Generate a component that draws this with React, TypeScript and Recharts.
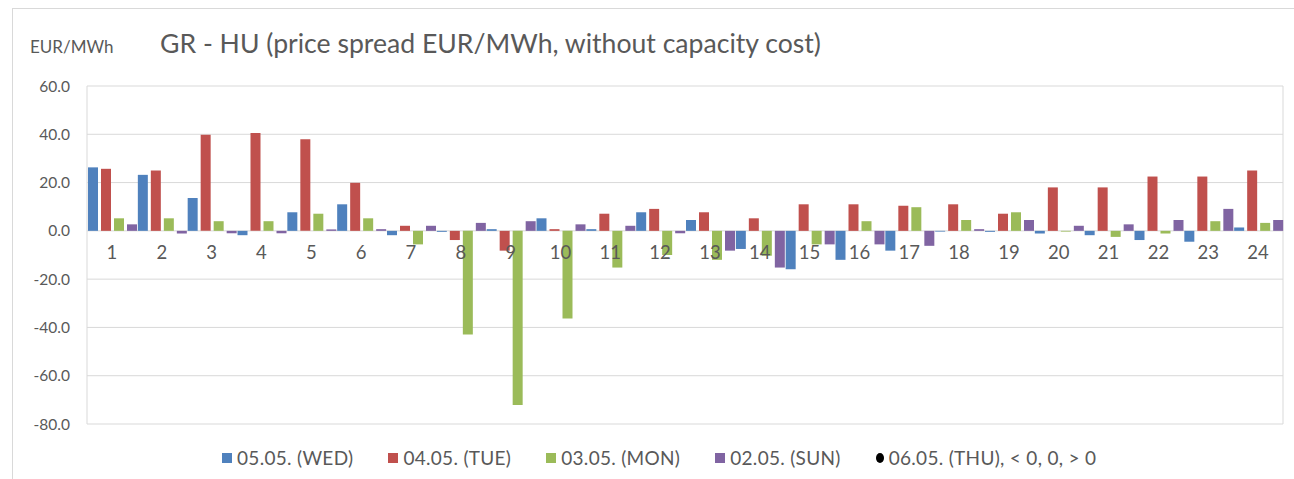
import React from "react";
import {
  ComposedChart,
  Bar,
  Line,
  XAxis,
  YAxis,
  CartesianGrid,
  LabelList,
} from "recharts";

// hours of the day
const hours = [1, 2, 3, 4, 5, 6, 7, 8, 9, 10, 11, 12, 13, 14, 15, 16, 17, 18, 19, 20, 21, 22, 23, 24];

// price spread per day (EUR/MWh)
const wed0505 = [26.3, 23.2, 13.6, -1.8, 7.7, 11.0, -1.8, -0.4, 0.7, 5.2, 0.7, 7.7, 4.5, -7.5, -15.9, -12.0, -8.2, -0.3, -0.4, -1.1, -1.8, -3.8, -4.5, 1.4];
const tue0405 = [25.7, 25.0, 39.8, 40.5, 37.9, 19.9, 2.1, -3.8, -8.2, 0.7, 7.1, 9.1, 7.7, 5.2, 11.0, 11.0, 10.4, 11.0, 7.1, 18.0, 18.0, 22.5, 22.5, 25.0];
const mon0305 = [5.2, 5.2, 4.0, 4.0, 7.1, 5.2, -5.6, -42.9, -72.1, -36.3, -15.2, -10.0, -12.0, -10.3, -5.6, 4.0, 9.8, 4.5, 7.7, -0.3, -2.5, -1.1, 4.0, 3.3];
const sun0205 = [2.7, -1.1, -1.0, -1.0, 0.6, 0.7, 2.1, 3.3, 4.0, 2.7, 2.1, -1.0, -8.2, -15.2, -5.6, -5.6, -6.2, 0.7, 4.5, 2.1, 2.7, 4.5, 9.1, 4.5];

const yTicks = [-80, -60, -40, -20, 0, 20, 40, 60];
// category boundaries for the vertical grid
const xTicks = [...hours.map((h) => h - 0.5), 24.5];

const legendItems = [
  { label: "05.05. (WED)", color: "#4f81bd", shape: "square" },
  { label: "04.05. (TUE)", color: "#c0504d", shape: "square" },
  { label: "03.05. (MON)", color: "#9bbb59", shape: "square" },
  { label: "02.05. (SUN)", color: "#8064a2", shape: "square" },
  { label: "06.05. (THU), < 0, 0, > 0", color: "#000000", shape: "circle" },
];

const data = hours.map((h, i) => ({
  hour: h,
  wed: wed0505[i],
  tue: tue0405[i],
  mon: mon0305[i],
  sun: sun0205[i],
  axis: 0,
}));

const textColor = "#595959";
const font = "Lato, 'Open Sans', sans-serif";

const App: React.FC = () => {
  return (
    <div
      style={{
        position: "absolute",
        left: 0,
        top: 0,
        width: 1294,
        height: 479,
        overflow: "hidden",
        background: "#fff",
        fontFamily: font,
        color: textColor,
      }}
    >
      {/* chart frame */}
      <div
        style={{
          position: "absolute",
          left: 12,
          top: 8,
          width: 1400,
          height: 600,
          borderLeft: "1px solid #d9d9d9",
          borderTop: "1px solid #d9d9d9",
        }}
      />

      {/* unit + title */}
      <div style={{ position: "absolute", left: 30, top: 36, fontSize: 17 }}>
        EUR/MWh
      </div>
      <div style={{ position: "absolute", left: 160, top: 27, fontSize: 26.6 }}>
        GR - HU (price spread EUR/MWh, without capacity cost)
      </div>

      <div style={{ position: "absolute", left: 0, top: 0 }}>
        <ComposedChart
          width={1294}
          height={479}
          data={data}
          margin={{ top: 86, right: 11, bottom: 54, left: 27 }}
          barCategoryGap={1}
          barGap={3}
        >
          <CartesianGrid stroke="#d9d9d9" strokeWidth={1} />
          <XAxis
            dataKey="hour"
            type="number"
            domain={[0.5, 24.5]}
            ticks={xTicks}
            tick={false}
            tickLine={false}
            axisLine={false}
            height={1}
          />
          <YAxis
            type="number"
            domain={[-80, 60]}
            ticks={yTicks}
            width={60}
            axisLine={false}
            tickLine={false}
            tickMargin={11}
            tickFormatter={(v: number) => v.toFixed(1)}
            tick={{ fontSize: 15.5, fill: textColor, fontFamily: font }}
          />
          <Bar dataKey="wed" fill="#4f81bd" isAnimationActive={false} />
          <Bar dataKey="tue" fill="#c0504d" isAnimationActive={false} />
          <Bar dataKey="mon" fill="#9bbb59" isAnimationActive={false} />
          <Bar dataKey="sun" fill="#8064a2" isAnimationActive={false} />
          {/* category labels sit on the zero line */}
          <Line
            dataKey="axis"
            stroke="none"
            dot={false}
            activeDot={false}
            legendType="none"
            isAnimationActive={false}
          >
            <LabelList
              dataKey="hour"
              position="bottom"
              offset={15}
              fill={textColor}
              fontSize={18.5}
              fontFamily={font}
            />
          </Line>
        </ComposedChart>
      </div>

      {/* legend */}
      <div
        style={{
          position: "absolute",
          left: 222,
          top: 446,
          display: "flex",
          alignItems: "center",
          fontSize: 19,
          letterSpacing: 0.3,
        }}
      >
        {legendItems.map((it) => (
          <div
            key={it.label}
            style={{ display: "flex", alignItems: "center", marginRight: 35 }}
          >
            <span
              style={{
                display: "inline-block",
                width: it.shape === "circle" ? 8 : 10,
                height: 10,
                borderRadius: it.shape === "circle" ? "50%" : 0,
                background: it.color,
                marginRight: 5,
              }}
            />
            <span>{it.label}</span>
          </div>
        ))}
      </div>
    </div>
  );
};

export default App;
